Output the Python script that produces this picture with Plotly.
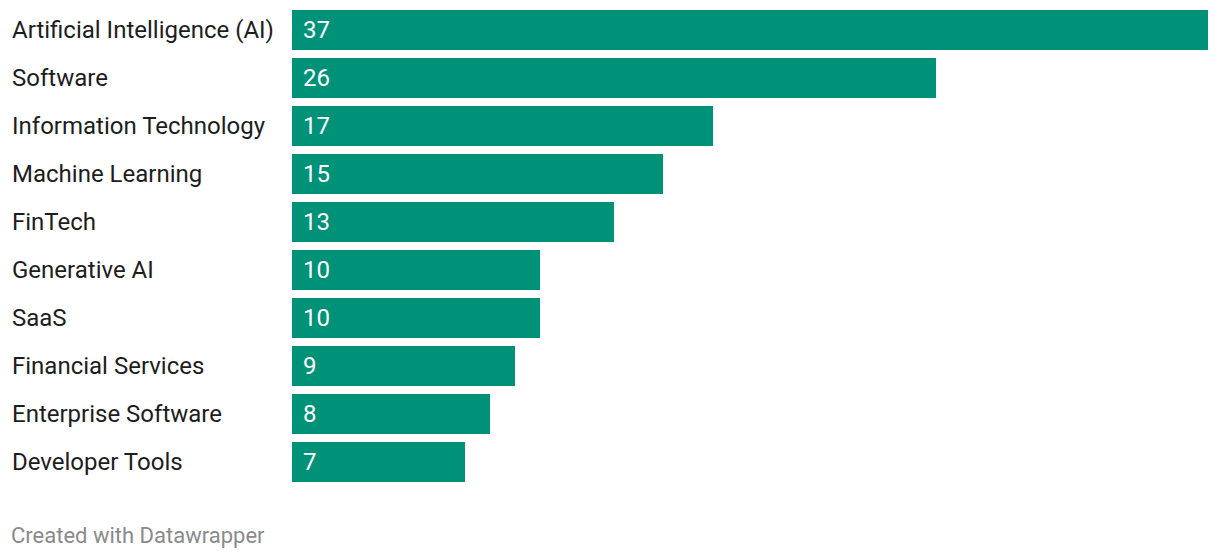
import plotly.graph_objects as go

categories = ["Artificial Intelligence (AI)", "Software", "Information Technology",
              "Machine Learning", "FinTech", "Generative AI", "SaaS",
              "Financial Services", "Enterprise Software", "Developer Tools"]
values = [37, 26, 17, 15, 13, 10, 10, 9, 8, 7]

BAR = "#009278"
OFF = 8  # page body margin
W, H = 1220 - OFF, 558 - OFF
L, R, T = 292 - OFF, 12, 0
plot_h = 486 - OFF
B = H - plot_h
plot_w = W - L - R
pitch = 48.0
top = -0.5 + plot_h / pitch

fig = go.Figure(go.Bar(
    x=values, y=categories, orientation="h",
    marker=dict(color=BAR, line=dict(width=0)),
    width=40 / pitch, hoverinfo="skip",
))

ann = []
for c, v in zip(categories, values):
    ann.append(dict(x=-(L - 2) / plot_w, xref="paper", y=c, yref="y",
                    text=c, showarrow=False, xanchor="left", yanchor="middle",
                    font=dict(family="Roboto", size=24, color="#1d1d1d")))
    ann.append(dict(x=0, xref="x", y=c, yref="y", xshift=9,
                    text=str(v), showarrow=False, xanchor="left", yanchor="middle",
                    font=dict(family="Roboto", size=24, color="white")))
ann.append(dict(x=-(L - 1) / plot_w, xref="paper", y=(plot_h - (535 - OFF)) / plot_h,
                yref="paper",
                text="Created with Datawrapper", showarrow=False,
                xanchor="left", yanchor="middle",
                font=dict(family="Roboto", size=22, color="#8a8a8a")))

fig.update_layout(
    width=W, height=H,
    margin=dict(l=L, r=R, t=T, b=B, pad=0),
    paper_bgcolor="white", plot_bgcolor="white",
    xaxis=dict(range=[0, 37], visible=False, fixedrange=True),
    yaxis=dict(categoryorder="array", categoryarray=categories[::-1],
               range=[-0.5, top], visible=False, fixedrange=True),
    showlegend=False, bargap=0,
    annotations=ann,
)
fig.write_html("out.html")
